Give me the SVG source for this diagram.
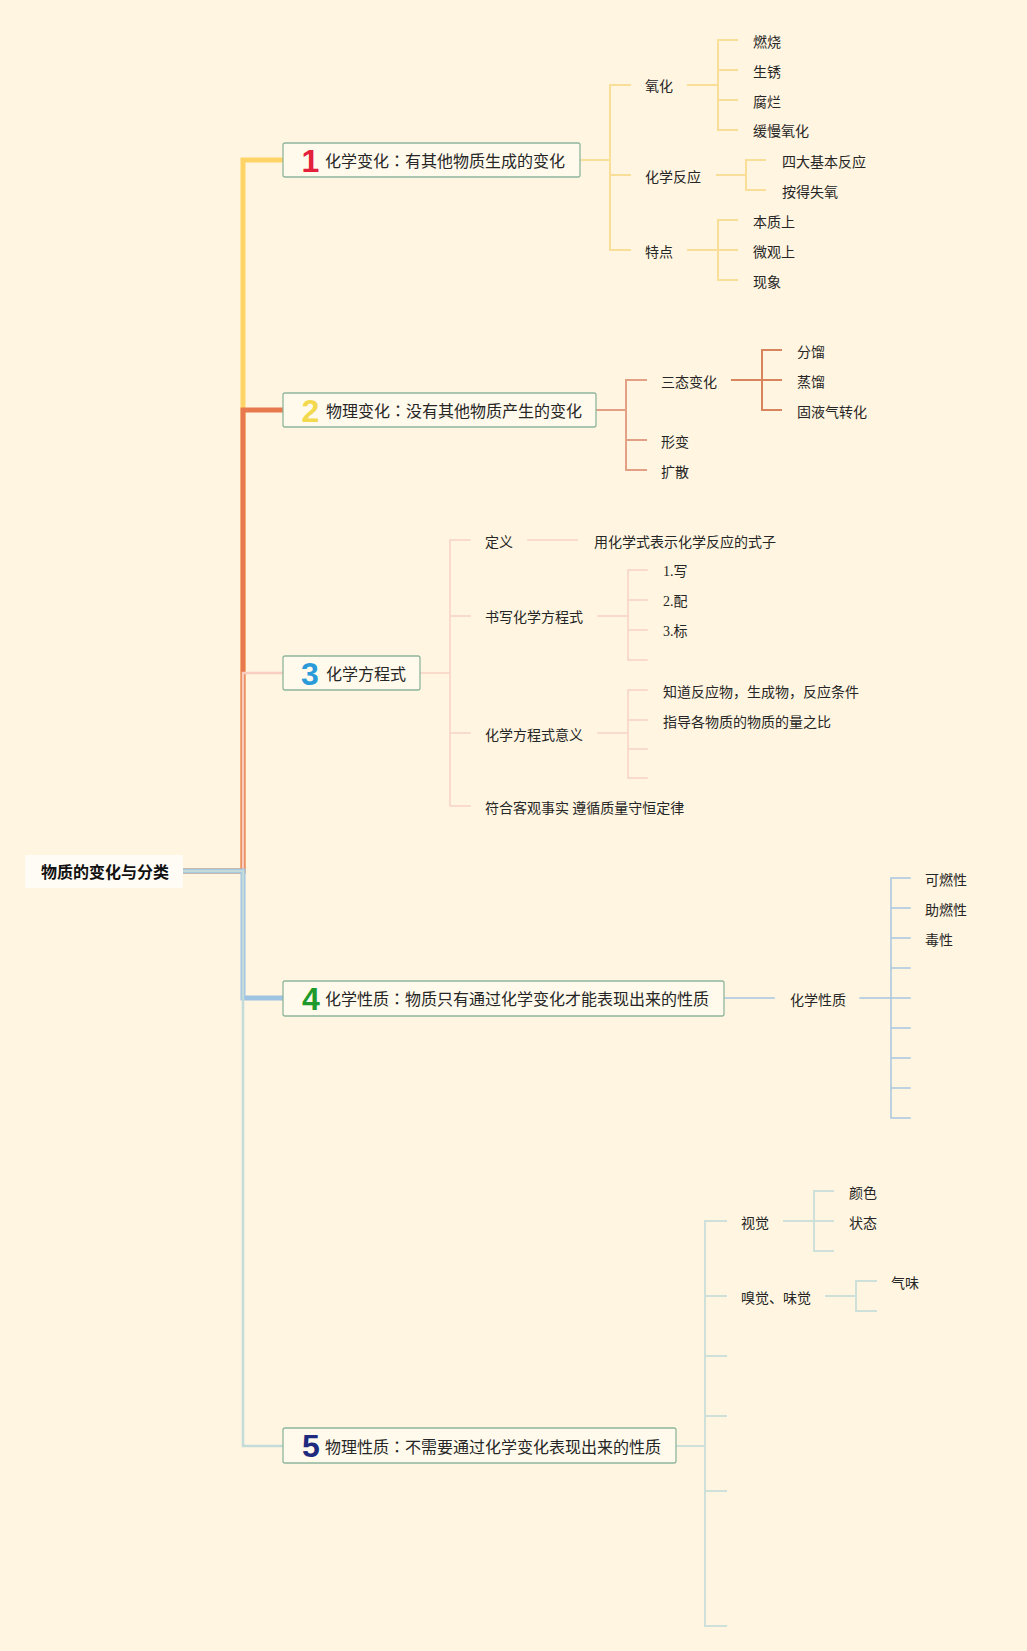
<svg xmlns="http://www.w3.org/2000/svg" width="1027" height="1651" viewBox="0 0 1027 1651">
<style>
.lbl{font-family:"Noto Sans CJK SC","Noto Sans",sans-serif;font-size:14px;fill:#262626;dominant-baseline:central}
.ser{font-family:"Liberation Serif","Noto Sans CJK SC",serif}
.main{font-family:"Noto Sans CJK SC","Noto Sans",sans-serif;font-size:16px;fill:#262626;dominant-baseline:central}
.col{font-family:"Noto Sans CJK TC","Noto Sans CJK SC",sans-serif}
.rootT{font-family:"Noto Sans CJK SC","Noto Sans",sans-serif;font-size:16px;font-weight:bold;fill:#111;dominant-baseline:central}
.num{font-family:"Liberation Sans",sans-serif;font-weight:bold;font-size:32px;text-anchor:middle}
.box{fill:#FFFAEC;stroke:#8FB59C;stroke-width:1.3}
.line{fill:none;stroke-linejoin:miter}
.c1{stroke:#F9DE97;stroke-width:2}
.c2{stroke:#E3A084;stroke-width:2}
.c2b{stroke:#D8845C;stroke-width:2}
.c3{stroke:#F6D2C4;stroke-width:1.5}
.c4{stroke:#A9C5DF;stroke-width:1.5}
.c5{stroke:#CDE0DA;stroke-width:2}
</style>
<rect x="0" y="0" width="1027" height="1651" fill="#FFF5E0"/>
<g id="connectors" class="line">
  <path d="M183,871 H243 V160 H283" stroke="#FFD466" stroke-width="5" fill="none"/>
  <path d="M183,871 H243 V410 H283" stroke="#E8784D" stroke-width="5" fill="none"/>
  <path d="M183,871 H243 V673 H283" stroke="#F8CEC0" stroke-width="2.5" fill="none"/>
  <path d="M183,871 H243 V998 H283" stroke="#9EC3E3" stroke-width="5" fill="none"/>
  <path d="M183,871 H243 V1446 H283" stroke="#C3DBD9" stroke-width="2.5" fill="none"/>
  <path class="c1" stroke-linecap="square" d="M580,160 H610 M610,85 V250 M610,85 H630 M610,175 H630 M610,250 H630 M688,85 H718 M718,40 V130 M718,40 H737 M718,70 H737 M718,100 H737 M718,130 H737 M717,175 H746 M746,160 V190 M746,160 H765 M746,190 H765 M688,250 H718 M718,220 V280 M718,220 H737 M718,250 H737 M718,280 H737"/>
  <path class="c2" stroke-linecap="square" d="M596,410 H626 M626,380 V470 M626,380 H646 M626,440 H646 M626,470 H646"/>
  <path class="c2b" stroke-linecap="square" d="M732,380 H762 M762,350 V410 M762,350 H781 M762,380 H781 M762,410 H781"/>
  <path class="c3" stroke-linecap="square" d="M420,673 H450 M450,540 V806 M450,540 H470 M450,616 H470 M450,733 H470 M450,806 H470 M528,540 H577 M598,616 H628 M628,570 V660 M628,570 H647 M628,600 H647 M628,630 H647 M628,660 H647 M598,733 H628 M628,690 V778 M628,690 H647 M628,720 H647 M628,749 H647 M628,778 H647"/>
  <path class="c4" stroke-linecap="square" d="M724,998 H774 M860,998 H891 M891,878 V1118 M891,878 H910 M891,908 H910 M891,938 H910 M891,968 H910 M891,998 H910 M891,1028 H910 M891,1058 H910 M891,1088 H910 M891,1118 H910"/>
  <path class="c5" stroke-linecap="square" d="M676,1446 H705 M705,1221 V1626 M705,1221 H726 M705,1296 H726 M705,1356 H726 M705,1416 H726 M705,1491 H726 M705,1626 H726 M784,1221 H814 M814,1191 V1251 M814,1191 H833 M814,1221 H833 M814,1251 H833 M826,1296 H856 M856,1281 V1311 M856,1281 H876 M856,1311 H876"/>
</g>
<g id="root">
  <rect x="25" y="855" width="158" height="33" rx="2" fill="#FFFCF5"/>
  <text class="rootT" x="41" y="871">物质的变化与分类</text>
</g>
<g id="t1">
  <rect class="box" x="283" y="143" width="297" height="34" rx="2"/>
  <text class="num" x="310.5" y="172" fill="#E3213A">1</text>
  <text class="main" x="325" y="160">化学变化<tspan class="col">：</tspan>有其他物质生成的变化</text>
</g>
<g id="t1-1"><text class="lbl" x="645" y="85">氧化</text></g>
<g id="t1-1-1"><text class="lbl" x="753" y="41">燃烧</text></g>
<g id="t1-1-2"><text class="lbl" x="753" y="71">生锈</text></g>
<g id="t1-1-3"><text class="lbl" x="753" y="101">腐烂</text></g>
<g id="t1-1-4"><text class="lbl" x="753" y="130">缓慢氧化</text></g>
<g id="t1-2"><text class="lbl" x="645" y="176">化学反应</text></g>
<g id="t1-2-1"><text class="lbl" x="782" y="161">四大基本反应</text></g>
<g id="t1-2-2"><text class="lbl" x="782" y="191">按得失氧</text></g>
<g id="t1-3"><text class="lbl" x="645" y="251">特点</text></g>
<g id="t1-3-1"><text class="lbl" x="753" y="221">本质上</text></g>
<g id="t1-3-2"><text class="lbl" x="753" y="251">微观上</text></g>
<g id="t1-3-3"><text class="lbl" x="753" y="281">现象</text></g>
<g id="t2">
  <rect class="box" x="283" y="393" width="313" height="34" rx="2"/>
  <text class="num" x="310.5" y="422" fill="#F3D94E">2</text>
  <text class="main" x="326" y="410">物理变化<tspan class="col">：</tspan>没有其他物质产生的变化</text>
</g>
<g id="t2-1"><text class="lbl" x="661" y="381">三态变化</text></g>
<g id="t2-1-1"><text class="lbl" x="797" y="351">分馏</text></g>
<g id="t2-1-2"><text class="lbl" x="797" y="381">蒸馏</text></g>
<g id="t2-1-3"><text class="lbl" x="797" y="411">固液气转化</text></g>
<g id="t2-2"><text class="lbl" x="661" y="441">形变</text></g>
<g id="t2-3"><text class="lbl" x="661" y="471">扩散</text></g>
<g id="t3">
  <rect class="box" x="283" y="656" width="137" height="34" rx="2"/>
  <text class="num" x="310" y="685" fill="#2A9AD9">3</text>
  <text class="main" x="326" y="673">化学方程式</text>
</g>
<g id="t3-1"><text class="lbl" x="485" y="541">定义</text></g>
<g id="t3-1-1"><text class="lbl" x="594" y="541">用化学式表示化学反应的式子</text></g>
<g id="t3-2"><text class="lbl" x="485" y="616">书写化学方程式</text></g>
<g id="t3-2-1"><text class="lbl ser" x="663" y="571">1.写</text></g>
<g id="t3-2-2"><text class="lbl ser" x="663" y="601">2.配</text></g>
<g id="t3-2-3"><text class="lbl ser" x="663" y="631">3.标</text></g>
<g id="t3-3"><text class="lbl" x="485" y="734">化学方程式意义</text></g>
<g id="t3-3-1"><text class="lbl" x="663" y="691">知道反应物，生成物，反应条件</text></g>
<g id="t3-3-2"><text class="lbl" x="663" y="721">指导各物质的物质的量之比</text></g>
<g id="t3-4"><text class="lbl" x="485" y="807">符合客观事实 遵循质量守恒定律</text></g>
<g id="t4">
  <rect class="box" x="283" y="981" width="441" height="35" rx="2"/>
  <text class="num" x="311" y="1010" fill="#1E9A2C">4</text>
  <text class="main" x="325" y="998">化学性质<tspan class="col">：</tspan>物质只有通过化学变化才能表现出来的性质</text>
</g>
<g id="t4-1"><text class="lbl" x="790" y="999">化学性质</text></g>
<g id="t4-1-1"><text class="lbl" x="925" y="879">可燃性</text></g>
<g id="t4-1-2"><text class="lbl" x="925" y="909">助燃性</text></g>
<g id="t4-1-3"><text class="lbl" x="925" y="939">毒性</text></g>
<g id="t5">
  <rect class="box" x="283" y="1428" width="393" height="35" rx="2"/>
  <text class="num" x="311" y="1457" fill="#1F2B7E">5</text>
  <text class="main" x="325" y="1446">物理性质<tspan class="col">：</tspan>不需要通过化学变化表现出来的性质</text>
</g>
<g id="t5-1"><text class="lbl" x="741" y="1222">视觉</text></g>
<g id="t5-1-1"><text class="lbl" x="849" y="1192">颜色</text></g>
<g id="t5-1-2"><text class="lbl" x="849" y="1222">状态</text></g>
<g id="t5-2"><text class="lbl" x="741" y="1297">嗅觉、味觉</text></g>
<g id="t5-2-1"><text class="lbl" x="891" y="1282">气味</text></g>
</svg>
